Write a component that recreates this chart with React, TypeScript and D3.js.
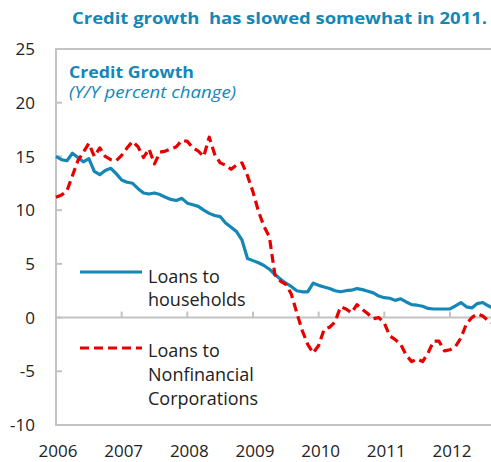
import React from "react";
import * as d3 from "d3";

const years = ["2006", "2007", "2008", "2009", "2010", "2011", "2012"];
const yTicks = [25, 20, 15, 10, 5, 0, -5, -10];

// Monthly, Jan 2006 - Aug 2012
const households = [
  15.0, 14.7, 14.6, 15.3, 14.9, 14.5, 14.8, 13.6, 13.3, 13.7, 13.9, 13.4,
  12.8, 12.6, 12.5, 12.0, 11.6, 11.5, 11.6, 11.45, 11.2, 11.0, 10.9, 11.1,
  10.65, 10.5, 10.35, 10.0, 9.7, 9.5, 9.4, 8.8, 8.4, 8.0, 7.2, 5.5,
  5.3, 5.1, 4.85, 4.5, 4.0, 3.6, 3.2, 2.9, 2.5, 2.4, 2.4, 3.2,
  3.0, 2.85, 2.7, 2.5, 2.4, 2.5, 2.55, 2.7, 2.6, 2.45, 2.3, 2.0,
  1.85, 1.8, 1.6, 1.75, 1.45, 1.2, 1.15, 1.05, 0.85, 0.8, 0.8, 0.8,
  0.8, 1.1, 1.4, 1.0, 0.9, 1.3, 1.4, 1.1, 0.85,
];
const corporations = [
  11.2, 11.4, 11.8, 13.2, 14.6, 15.4, 16.2, 15.0, 15.8, 15.0, 14.7, 14.6,
  15.1, 15.8, 16.4, 15.9, 14.9, 15.7, 14.3, 15.4, 15.5, 15.7, 15.9, 16.5,
  16.4, 15.8, 15.5, 15.0, 16.8, 15.2, 14.4, 14.2, 13.8, 14.2, 14.4, 13.2,
  11.7, 9.9, 8.5, 7.5, 4.0, 3.4, 3.1, 2.2, 0.45, -1.2, -2.5, -3.3,
  -2.6, -1.1, -0.9, -0.4, 1.0, 0.8, 0.45, 1.2, 0.75, 0.35, -0.1, 0.0,
  -0.5, -1.7, -2.05, -2.5, -3.5, -4.1, -3.85, -4.1, -3.3, -2.2, -2.2, -3.1,
  -3.0, -2.7, -1.9, -0.6, 0.0, 0.35, 0.15, -0.3, -0.55,
];

const BLUE = "#1487b6";
const RED = "#e60000";
const GRID = "#c3c3c3";
const FONT = "'Open Sans', 'Noto Sans', sans-serif";

export default function App() {
  const W = 491, H = 462;
  const left = 56, right = 491, top = 49, bottom = 425;
  const x = d3.scaleLinear().domain([0, 79.5]).range([left, right]);
  const y = d3.scaleLinear().domain([-10, 25]).range([bottom, top]);
  const line = d3
    .line<number>()
    .x((_, i) => x(i))
    .y((d) => y(d));

  return (
    <svg
      width={W}
      height={H}
      style={{ position: "absolute", left: 0, top: 0, background: "#fff" }}
      fontFamily={FONT}
    >
      <text
        x={487}
        y={24}
        textAnchor="end"
        fontSize={16}
        fontWeight="bold"
        fill={BLUE}
        textLength={415}
        lengthAdjust="spacingAndGlyphs"
        style={{ whiteSpace: "pre" }}
      >
        {"Credit growth  has slowed somewhat in 2011."}
      </text>

      {/* frame */}
      <line x1={left} x2={right} y1={top} y2={top} stroke={GRID} strokeWidth={2} />
      <line x1={left} x2={right} y1={bottom} y2={bottom} stroke={GRID} strokeWidth={2} />
      <line x1={left} x2={left} y1={top - 1} y2={bottom + 1} stroke={GRID} strokeWidth={2} />
      <line x1={left} x2={right} y1={y(0)} y2={y(0)} stroke={GRID} strokeWidth={2} />

      {yTicks.map((t) => (
        <g key={t}>
          <line x1={left} x2={left + 6} y1={y(t)} y2={y(t)} stroke={GRID} strokeWidth={2} />
          <text
            x={35}
            y={y(t)}
            dy="0.36em"
            textAnchor="end"
            fontSize={17}
            fill="#222"
          >
            {t}
          </text>
        </g>
      ))}

      {years.map((yr, i) => (
        <g key={yr}>
          {i > 0 && (
            <line
              x1={x(i * 12)}
              x2={x(i * 12)}
              y1={y(0)}
              y2={y(0) - 6}
              stroke={GRID}
              strokeWidth={2}
            />
          )}
          <text x={x(i * 12) + 2} y={457} textAnchor="middle" fontSize={17} fill="#222">
            {yr}
          </text>
        </g>
      ))}

      <text x={69} y={78} fontSize={15.5} fontWeight="bold" fill={BLUE} textLength={125} lengthAdjust="spacingAndGlyphs">
        Credit Growth
      </text>
      <text x={69} y={98} fontSize={15.5} fontStyle="italic" fill={BLUE} textLength={167} lengthAdjust="spacingAndGlyphs">
        (Y/Y percent change)
      </text>

      <path d={line(households) || ""} fill="none" stroke={BLUE} strokeWidth={3.2} strokeLinejoin="round" />
      <path
        d={line(corporations) || ""}
        fill="none"
        stroke={RED}
        strokeWidth={3.2}
        strokeDasharray="9,5"
        strokeLinejoin="round"
      />

      {/* legend */}
      <line x1={80} x2={142} y1={272} y2={272} stroke={BLUE} strokeWidth={3.2} />
      <text x={148} y={283} fontSize={18} fill="#222">Loans to</text>
      <text x={148} y={306} fontSize={18} fill="#222">households</text>

      <line x1={80} x2={142} y1={348} y2={348} stroke={RED} strokeWidth={3.2} strokeDasharray="9,5" />
      <text x={148} y={357} fontSize={18} fill="#222">Loans to</text>
      <text x={148} y={381} fontSize={18} fill="#222">Nonfinancial</text>
      <text x={148} y={405} fontSize={18} fill="#222">Corporations</text>
    </svg>
  );
}
